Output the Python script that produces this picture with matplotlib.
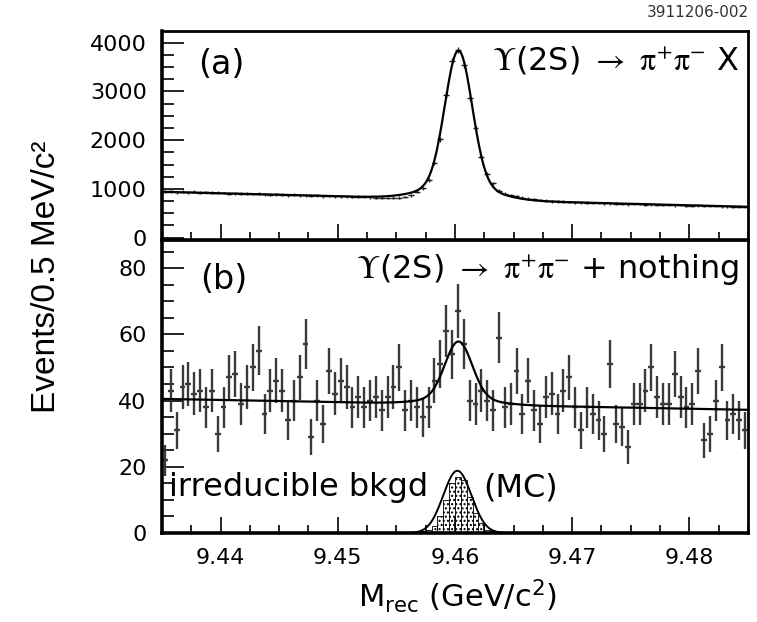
import numpy as np
import matplotlib
matplotlib.use("Agg")
import matplotlib.pyplot as plt
from matplotlib.ticker import MultipleLocator, FormatStrFormatter

# ---------------- data ----------------
mass_lo = 9.435          # GeV, lower edge of first bin
bin_width = 0.0005       # GeV (0.5 MeV)

# (a) Y(2S) -> pi+ pi- X, events per bin
top_counts = [
    945, 948, 935, 940, 930, 938, 925, 930, 920, 925,
    915, 905, 912, 900, 905, 895, 898, 890, 880, 885,
    878, 870, 880, 872, 865, 858, 868, 850, 855, 848,
    845, 850, 835, 838, 832, 828, 822,
    815, 812, 818, 822, 835, 870, 940, 1010, 1180, 1523,
    2016, 2926, 3624, 3850, 3542, 2858, 2242, 1660, 1304, 1113,
    960, 905, 870, 845, 815, 800, 785, 770, 758, 745,
    742, 735, 728, 722, 725, 715, 710, 712, 703, 700,
    698, 690, 683, 690, 685, 678, 680, 672, 670, 668,
    662, 665, 658, 652, 660, 650, 645, 648, 642, 640,
    635, 638, 630,
]

# (b) Y(2S) -> pi+ pi- + nothing, events per bin
bot_counts = [
    22, 43, 31, 44, 45, 42, 43, 38, 43, 30,
    38, 47, 48, 39, 44, 50, 55, 36, 43, 46,
    43, 34, 40, 47, 57, 29, 40, 33, 49, 42,
    46, 44, 38, 41, 38, 40, 41, 37, 41, 44,
    50, 37, 40, 38, 35, 38, 46, 51, 61, 54,
    67, 57, 40, 39, 43, 40, 37, 59, 38, 39,
    49, 36, 46, 37, 33, 41, 42, 36, 43, 47,
    38, 31, 38, 36, 34, 30, 51, 33, 32, 26,
    39, 39, 43, 50, 41, 39, 39, 48, 41, 38,
    39, 49, 28, 30, 40, 50, 34, 36, 34, 31,
]

# irreducible background (MC) histogram, bins 44..56
mc_first_bin = 44
mc_counts = [0.5, 1.0, 2.0, 5.0, 10.0, 15.0, 17.0, 16.0, 11.0, 6.0, 3.0, 1.0, 0.5]

# fit parameters
top_fit = dict(bg_left=940.0, bg_right=632.0, amp=3055.0, mean=9.4603,
               sig_core=0.00115, sig_tail=0.0028, f_tail=0.10)
bot_fit = dict(bg_left=40.5, bg_right=37.2, amp=19.0, mean=9.4603,
               sig_core=0.00115, sig_tail=0.0028, f_tail=0.10)
mc_fit = dict(amp=18.8, mean=9.4602, sigma=0.00120)

xticks_major = [9.44, 9.45, 9.46, 9.47, 9.48]

# ---------------- helpers ----------------
n_bins = len(bot_counts)
centers = mass_lo + bin_width * (np.arange(n_bins) + 0.5)
mass_hi = mass_lo + bin_width * n_bins
xf = np.linspace(mass_lo, mass_hi, 800)


def fit_curve(p, x):
    bg = p["bg_left"] + (p["bg_right"] - p["bg_left"]) * (x - mass_lo) / (mass_hi - mass_lo)
    d = x - p["mean"]
    sig = ((1 - p["f_tail"]) * np.exp(-0.5 * (d / p["sig_core"]) ** 2)
           + p["f_tail"] * np.exp(-0.5 * (d / p["sig_tail"]) ** 2))
    return bg + p["amp"] * sig


plt.rcParams["font.family"] = ["DejaVu Sans"]
plt.rcParams["mathtext.fontset"] = "stix"

fig = plt.figure(figsize=(7.57, 6.22), dpi=100)
ax1 = fig.add_axes([0.214, 0.6141, 0.7741, 0.3360])
ax2 = fig.add_axes([0.214, 0.1431, 0.7741, 0.4711])

# ---- panel (a)
top = np.array(top_counts, float)
ax1.errorbar(centers, top, yerr=np.sqrt(top), xerr=bin_width / 2, fmt="none",
             ecolor="#222222", elinewidth=1.0, capsize=0)
ax1.plot(xf, fit_curve(top_fit, xf), color="black", lw=1.6)
ax1.set_xlim(mass_lo, mass_hi)
ax1.set_ylim(-50, 4240)
ax1.yaxis.set_major_locator(MultipleLocator(1000))
ax1.yaxis.set_minor_locator(MultipleLocator(250))
ax1.set_xticks(xticks_major)
ax1.xaxis.set_minor_locator(MultipleLocator(0.0025))
ax1.tick_params(labelbottom=False)

# ---- panel (b)
bot = np.array(bot_counts, float)
ax2.errorbar(centers, bot, yerr=np.sqrt(bot), xerr=bin_width / 2, fmt="none",
             ecolor="#3a3a3a", elinewidth=1.7, capsize=0)
ax2.plot(xf, fit_curve(bot_fit, xf), color="black", lw=1.6)

mc_x = centers[mc_first_bin:mc_first_bin + len(mc_counts)]
ax2.bar(mc_x, mc_counts, width=bin_width, facecolor="white", edgecolor="black",
        hatch="....", linewidth=0.6)
ax2.plot(xf, mc_fit["amp"] * np.exp(-0.5 * ((xf - mc_fit["mean"]) / mc_fit["sigma"]) ** 2),
         color="black", lw=1.4)

ax2.set_xlim(mass_lo, mass_hi)
ax2.set_ylim(0, 88.5)
ax2.yaxis.set_major_locator(MultipleLocator(20))
ax2.yaxis.set_minor_locator(MultipleLocator(5))
ax2.set_xticks(xticks_major)
ax2.xaxis.set_minor_locator(MultipleLocator(0.0025))
ax2.xaxis.set_major_formatter(FormatStrFormatter("%.2f"))

for ax in (ax1, ax2):
    ax.tick_params(which="both", direction="in", top=False, right=False, width=1.2,
                   labelsize=16, pad=11)
    ax.tick_params(axis="y", which="major", length=16)
    ax.tick_params(axis="y", which="minor", length=8.5)
    ax.tick_params(axis="x", which="major", length=11.5)
    ax.tick_params(axis="x", which="minor", length=5.5)
    for s in ("left", "bottom"):
        ax.spines[s].set_linewidth(2.6)
    for s in ("top", "right"):
        ax.spines[s].set_linewidth(2.0)

# ---- texts
ax1.text(0.062, 0.84, "(a)", transform=ax1.transAxes, fontsize=24, va="center", ha="left")
ax1.text(0.985, 0.86, r"$\mathit{\Upsilon}$(2S) $\rightarrow$ $\mathrm{\pi}^{+}\mathrm{\pi}^{-}$ X",
         transform=ax1.transAxes, fontsize=23, va="center", ha="right")
ax2.text(0.065, 0.865, "(b)", transform=ax2.transAxes, fontsize=24, va="center", ha="left")
ax2.text(0.985, 0.90, r"$\mathit{\Upsilon}$(2S) $\rightarrow$ $\mathrm{\pi}^{+}\mathrm{\pi}^{-}$ + nothing",
         transform=ax2.transAxes, fontsize=23, va="center", ha="right")
ax2.text(0.012, 0.155, "irreducible bkgd", transform=ax2.transAxes, fontsize=23,
         va="center", ha="left")
ax2.text(0.548, 0.155, "(MC)", transform=ax2.transAxes, fontsize=23, va="center", ha="left")

fig.text(0.99, 0.98, "3911206-002", fontsize=11, ha="right", va="center", color="#333333")
fig.text(0.062, 0.555, "Events/0.5 MeV/c²", rotation=90, fontsize=24,
         family=["Liberation Sans", "DejaVu Sans"], ha="center", va="center")
fig.text(0.605, 0.042, r"M$_{\rm rec}$ (GeV/c$^{2}$)", fontsize=22, ha="center", va="center",
         math_fontfamily="dejavusans")

fig.savefig("out.png", dpi=100)
